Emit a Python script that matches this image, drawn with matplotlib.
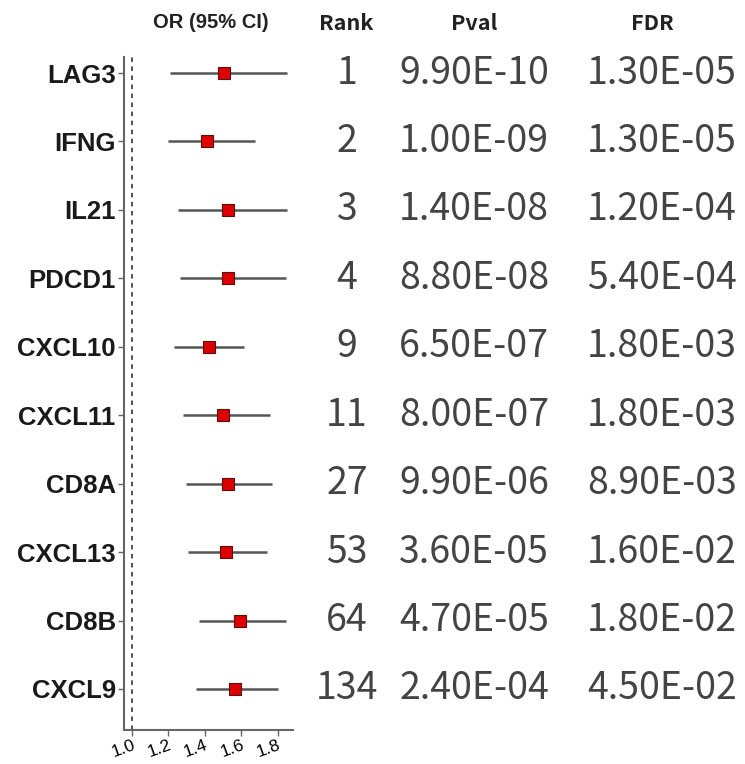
import matplotlib
matplotlib.use("Agg")
import matplotlib.pyplot as plt
import matplotlib.transforms as mtransforms

genes = ["LAG3", "IFNG", "IL21", "PDCD1", "CXCL10", "CXCL11", "CD8A", "CXCL13", "CD8B", "CXCL9"]
odds = [1.505, 1.412, 1.527, 1.527, 1.423, 1.500, 1.527, 1.516, 1.593, 1.566]
ci_low = [1.209, 1.198, 1.253, 1.264, 1.231, 1.280, 1.297, 1.308, 1.368, 1.352]
ci_high = [1.852, 1.676, 1.852, 1.846, 1.615, 1.758, 1.769, 1.742, 1.846, 1.802]
ranks = ["1", "2", "3", "4", "9", "11", "27", "53", "64", "134"]
pvals = ["9.90E-10", "1.00E-09", "1.40E-08", "8.80E-08", "6.50E-07", "8.00E-07", "9.90E-06", "3.60E-05", "4.70E-05", "2.40E-04"]
fdrs = ["1.30E-05", "1.30E-05", "1.20E-04", "5.40E-04", "1.80E-03", "1.80E-03", "8.90E-03", "1.60E-02", "1.80E-02", "4.50E-02"]
xticks = [1.0, 1.2, 1.4, 1.6, 1.8]
headers = ["OR (95% CI)", "Rank", "Pval", "FDR"]

W, H = 745, 764
fig = plt.figure(figsize=(W / 100, H / 100), dpi=100)
ax = fig.add_axes([124 / W, (H - 730) / H, (293 - 124) / W, (730 - 57) / H])

y = list(range(len(genes)))
ax.hlines(y, ci_low, ci_high, color="#555555", lw=1.8, zorder=2)
ax.scatter(odds, y, marker="s", s=75, color="#dd0000", edgecolor="#5a1010", linewidth=0.8, zorder=3)
ax.axvline(1.0, color="#444444", lw=1.3, ls=(0, (2.5, 2.5)), zorder=1)

ax.set_xlim(0.956, 1.885)
ax.set_ylim(9.6, -0.234)
ax.set_yticks(y)
ax.set_yticklabels(genes, fontsize=18.5, fontweight="bold", family="Liberation Sans", color="#1a1a1a")
ax.set_xticks(xticks)
ax.set_xticklabels([f"{v:.1f}" for v in xticks], fontsize=12.5, rotation=20,
                   ha="right", rotation_mode="anchor", family="Liberation Sans")
for lbl in ax.get_xticklabels():
    lbl.set_transform(lbl.get_transform() + mtransforms.ScaledTranslation(0.06, 0, fig.dpi_scale_trans))
ax.tick_params(axis="y", length=4, width=1, color="#666666", pad=2)
ax.tick_params(axis="x", length=4, width=1, color="#666666", pad=1.5)
for s in ["top", "right"]:
    ax.spines[s].set_visible(False)
for s in ["left", "bottom"]:
    ax.spines[s].set_color("#666666")
    ax.spines[s].set_linewidth(1.5)

trans = mtransforms.blended_transform_factory(fig.transFigure, ax.transData)
valfont = dict(family=["Noto Sans CJK SC", "DejaVu Sans"], fontweight="light", fontsize=27,
               color="#444444", ha="center", va="center")
for i in y:
    ax.text(347 / W, i, ranks[i], transform=trans, clip_on=False, **valfont)
    ax.text(474 / W, i, pvals[i], transform=trans, clip_on=False, **valfont)
    ax.text(662 / W, i, fdrs[i], transform=trans, clip_on=False, **valfont)

fig.text(211 / W, 1 - 23 / H, headers[0], ha="center", va="center", fontsize=14.5,
         fontweight="bold", family="Liberation Sans", color="#222222")
hdr_x = [346, 474, 652]
for hx, txt in zip(hdr_x, headers[1:]):
    fig.text(hx / W, 1 - 23 / H, txt, ha="center", va="center", fontsize=15.5,
             fontweight="bold", family=["Noto Sans CJK SC", "DejaVu Sans"], color="#222222")

fig.savefig("out.png", dpi=100, facecolor="white")
